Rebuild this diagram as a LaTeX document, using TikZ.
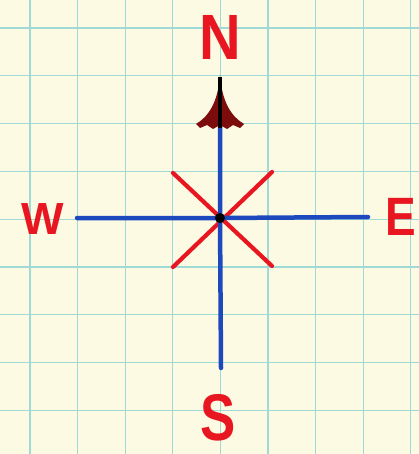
\documentclass[tikz,border=0pt]{standalone}
\usepackage{fontspec}
\setmainfont{Liberation Sans}
\definecolor{paper}{RGB}{252,250,226}
\definecolor{gridc}{RGB}{160,218,214}
\definecolor{inkred}{RGB}{232,22,32}
\definecolor{inkblue}{RGB}{30,72,190}
\definecolor{arrowred}{RGB}{125,12,12}
\begin{document}
\begin{tikzpicture}[x=1pt,y=-1pt,
  letter/.style={text=inkred,inner sep=0pt,font=\fontsize{#1}{#1}\selectfont\bfseries},
  axis/.style={draw=inkblue,line width=4.5pt,line cap=round},
  diag/.style={draw=inkred,line width=4.2pt,line cap=round},
  gridline/.style={draw=gridc,line width=1.3pt}]
\fill[paper] (0,0) rectangle (419,454);
\useasboundingbox (0,0) rectangle (419,454);
\foreach \i in {0,...,8} {
  \draw[gridline] ({30+47.6*\i},0) -- ({30+47.6*\i},454);
  \draw[gridline] (0,{28+47.8*\i}) -- (419,{28+47.8*\i});
}
\coordinate (c) at (220,218);
\coordinate (wend) at (77,218);
\coordinate (eend) at (368,217);
\coordinate (send) at (221,368);
\coordinate (nend) at (220,125);
\coordinate (nw) at (173,173);
\coordinate (se) at (272,266);
\coordinate (ne) at (272,172);
\coordinate (sw) at (173,267);
\node[letter=64pt,xscale=0.9] (N) at (220,37) {N};
\node[letter=45pt] (W) at (43,219) {W};
\node[letter=54pt,xscale=0.85] (E) at (401,217) {E};
\node[letter=66pt,xscale=0.8] (S) at (218,418) {S};
\draw[diag] (nw) -- (se);
\draw[diag] (ne) -- (sw);
\draw[axis] (wend) -- (c) -- (eend);
\draw[axis] (nend) -- (c) -- (send);
\fill[black] (c) circle (5pt);
\fill[arrowred] (220,75) .. controls (222,103) and (232,117) .. (244,124)
  -- (240,128) -- (233,125) -- (227,129) -- (220,125) -- (213,129) -- (207,125)
  -- (200,128) -- (196,124) .. controls (208,117) and (218,103) .. (220,75) -- cycle;
\draw[black,line width=4pt] (220,77) -- (220,128);
\end{tikzpicture}
\end{document}
